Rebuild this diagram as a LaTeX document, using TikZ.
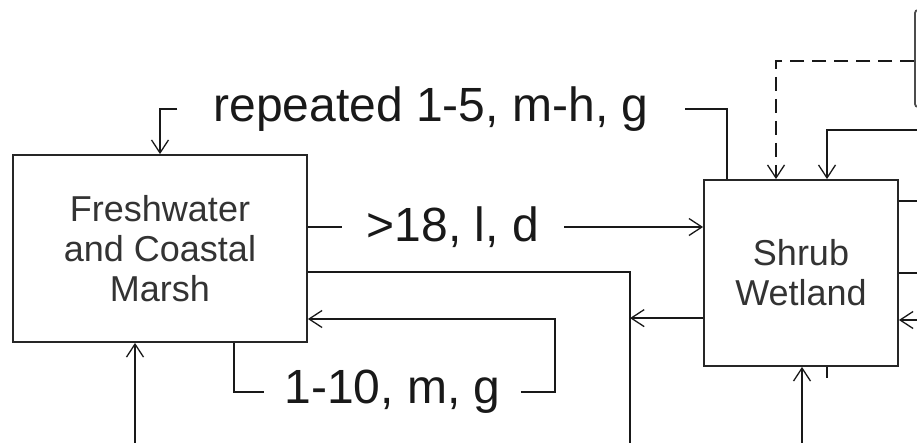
\documentclass[tikz,border=0pt]{standalone}
\usepackage{fontspec}
\setmainfont{Liberation Sans}
\usetikzlibrary{arrows.meta}
\begin{document}
\begin{tikzpicture}[x=1pt,y=-1pt,
  conn/.style={line width=1.7pt, draw=black!90},
  arr/.style={conn,-{Straight Barb[length=13pt,width=17pt,line width=1.3pt]}},
  boxnode/.style={draw=black!85, line width=1.8pt, align=center, font=\fontsize{36}{40}\selectfont, text=black!80, inner sep=0pt},
  lbl/.style={font=\fontsize{48}{52}\selectfont, text=black!90, inner ysep=0pt}]
\path[use as bounding box] (0,0) rectangle (917,442);
\clip (0,0) rectangle (917,442);
% boxes
\node[boxnode, minimum width=294pt, minimum height=187pt] (marsh) at (160,248.5) {Freshwater\\and Coastal\\Marsh};
\node[boxnode, minimum width=194pt, minimum height=186pt] (shrub) at (801,273) {Shrub\\Wetland};
\node[draw=black!70, line width=1.8pt, rounded corners=3pt, minimum width=90pt, minimum height=97pt] (topbox) at (960,58.5) {};
% labels
\node[lbl, inner xsep=36pt] (rep) at (431,109) {repeated 1-5, m-h, g};
\node[lbl, inner xsep=25pt] (gt) at (453,227) {>18, l, d};
\node[lbl, inner xsep=20pt] (ten) at (392.5,392) {1-10, m, g};
% helper coordinates
\coordinate (b1) at (630,450);
\coordinate (b2) at (135,450);
\coordinate (b3) at (802,450);
\coordinate (sl) at ([yshift=-139pt]shrub.north west);
\coordinate (lp) at (555,319);
\coordinate (t1) at (827,378);
\coordinate (d1) at (776,61);
\coordinate (r1) at (930,130);
\coordinate (r2) at (827,130);
\coordinate (e1) at (930,201);
\coordinate (e2) at (930,273);
\coordinate (e3) at (930,320);
% repeated 1-5
\draw[conn] ([xshift=24pt]shrub.north west) |- (rep.east);
\draw[arr] (rep.west) -| (marsh.north);
% >18
\draw[conn] (marsh.east |- gt.west) -- (gt.west);
\draw[arr] (gt.east) -- (shrub.west |- gt.east);
% marsh to bottom
\draw[conn] ([yshift=-118pt]marsh.north east) -| (b1);
\draw[arr] (sl) -- (sl -| b1);
% 1-10 loop
\draw[conn] ([xshift=222pt]marsh.south west) |- (ten.west);
\draw[arr] (ten.east) -| (lp) -- (marsh.east |- lp);
% bottom arrows
\draw[arr] (b2) -- (b2 |- marsh.south);
\draw[arr] (b3) -- (b3 |- shrub.south);
\draw[conn] (t1 |- shrub.south) -- (t1);
% top right
\draw[arr, dash pattern=on 14pt off 8pt] (topbox.west |- d1) -- (d1) -- (d1 |- shrub.north);
\draw[arr] (r1) -- (r2) -- (r2 |- shrub.north);
% right side
\draw[conn] (shrub.east |- e1) -- (e1);
\draw[conn] (shrub.east |- e2) -- (e2);
\draw[arr] (e3) -- (shrub.east |- e3);
\end{tikzpicture}
\end{document}
